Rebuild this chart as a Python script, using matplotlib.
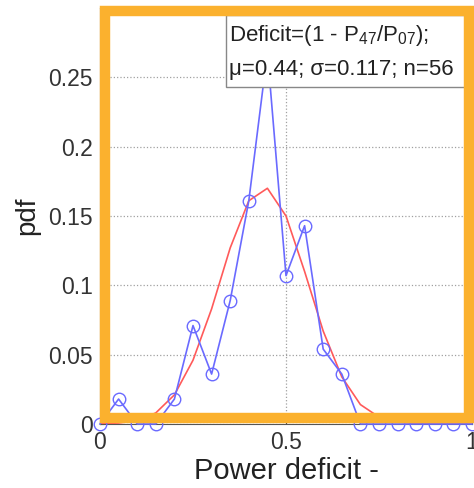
import matplotlib
matplotlib.use('Agg')
import matplotlib.pyplot as plt
from matplotlib.patches import Rectangle

plt.rcParams['font.family'] = ['Liberation Sans', 'DejaVu Sans']

# bin centres and pdf (count / n)
x_bins = [0.0, 0.05, 0.10, 0.15, 0.20, 0.25, 0.30, 0.35, 0.40, 0.45, 0.50,
          0.55, 0.60, 0.65, 0.70, 0.75, 0.80, 0.85, 0.90, 0.95, 1.0]
pdf_obs = [0.0, 0.018, 0.0, 0.0, 0.018, 0.071, 0.036, 0.089, 0.161, 0.268, 0.107,
           0.143, 0.054, 0.036, 0.0, 0.0, 0.0, 0.0, 0.0, 0.0, 0.0]
# fitted normal curve (red)
pdf_fit = [0.0002, 0.0007, 0.0025, 0.008, 0.021, 0.046, 0.083, 0.127, 0.161, 0.170, 0.150,
           0.110, 0.067, 0.034, 0.014, 0.005, 0.0015, 0.0004, 0.0001, 0.0, 0.0]

xticks = [0, 0.5, 1]
xticklabels = ['0', '0.5', '1']
yticks = [0, 0.05, 0.1, 0.15, 0.2, 0.25]
yticklabels = ['0', '0.05', '0.1', '0.15', '0.2', '0.25']

W, H = 474, 488
fig = plt.figure(figsize=(W / 100, H / 100), dpi=100)
ax = fig.add_axes([100 / W, (H - 424) / H, 372 / W, 416 / H])

ax.plot(x_bins, pdf_fit, color='#ff5a5a', linewidth=1.2, zorder=3)
ax.plot(x_bins, pdf_obs, color='#6a6aff', linewidth=1.2, marker='o', markersize=9,
        markerfacecolor='none', markeredgecolor='#6a6aff', markeredgewidth=1.0,
        clip_on=False, zorder=4)

ax.set_xlim(0, 1)
ax.set_ylim(0, 0.3)
ax.set_xticks(xticks)
ax.set_xticklabels(xticklabels)
ax.set_yticks(yticks)
ax.set_yticklabels(yticklabels)
ax.tick_params(direction='in', length=3, labelsize=16.5, colors='#333333', pad=5)
ax.grid(True, linestyle=':', color='#a0a0a0', linewidth=0.9)
for s in ax.spines.values():
    s.set_color('#555555')

ax.set_xlabel('Power deficit -', fontsize=21, color='#222222', labelpad=2)
ax.set_ylabel('pdf', fontsize=20, color='#222222', labelpad=6)

# legend-like text box
px = lambda x, y: (x / W, (H - y) / H)
box = Rectangle(px(226, 87), 239 / W, 72 / H, transform=fig.transFigure,
                facecolor='white', edgecolor='#888888', linewidth=1.0, zorder=10)
fig.add_artist(box)
fig.text(*px(229, 41), r'Deficit=(1 - P$\mathregular{_{47}}$/P$\mathregular{_{07}}$);',
         fontsize=16, color='#222222', ha='left', va='baseline', zorder=11)
fig.text(*px(229, 75), 'μ=0.44; σ=0.117; n=56',
         fontsize=16, color='#222222', ha='left', va='baseline', zorder=11)

# orange highlight frame
frame = Rectangle(px(105, 418), 364 / W, 407 / H, transform=fig.transFigure,
                  facecolor='none', edgecolor='#fbb12e', linewidth=7.5, zorder=20)
fig.add_artist(frame)

fig.savefig('out.png', dpi=100)
